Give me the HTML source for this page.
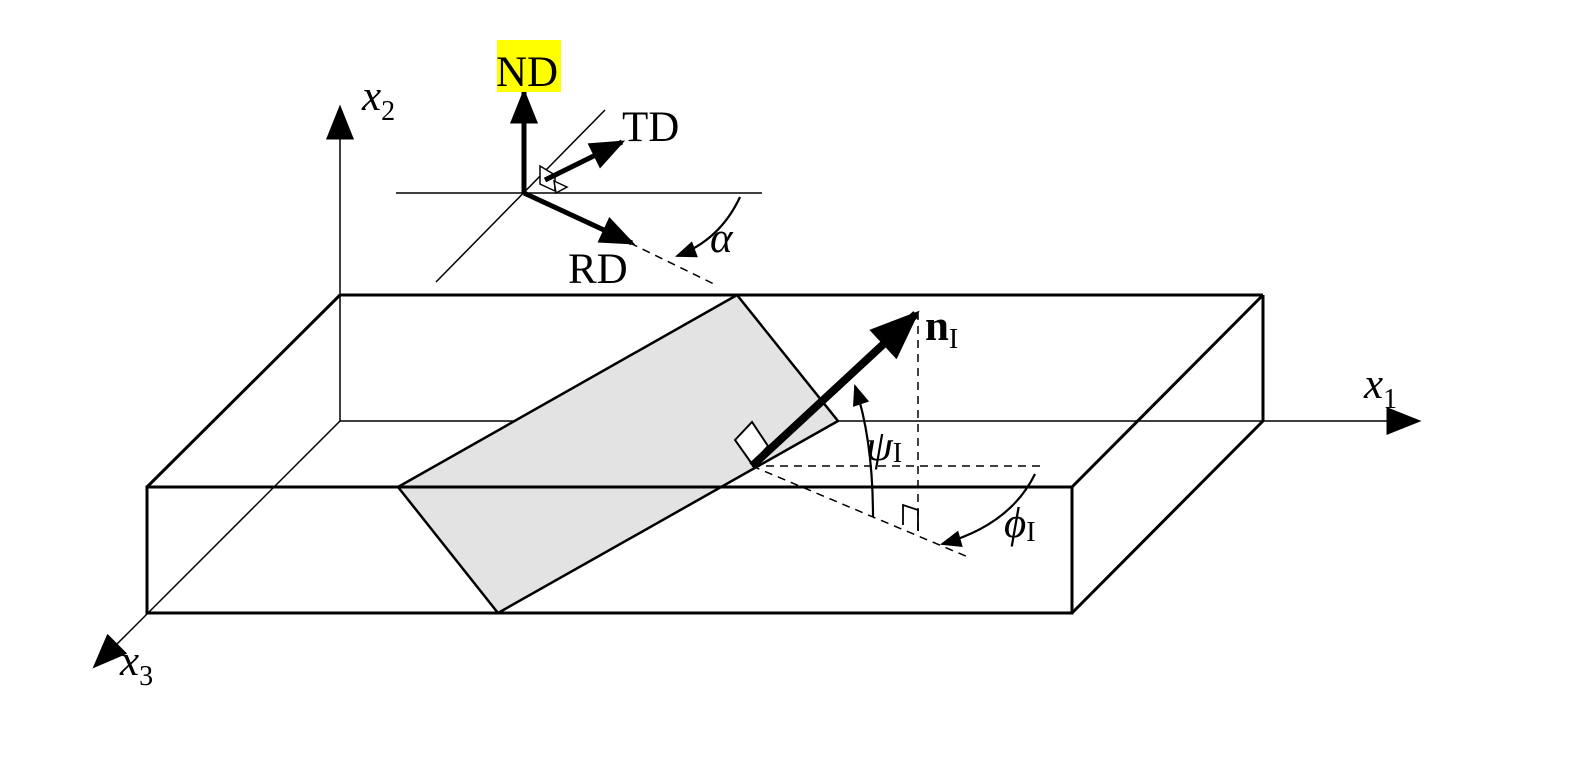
<!DOCTYPE html>
<html><head><style>html,body{margin:0;padding:0;background:#fff;overflow:hidden}svg{display:block}text{font-family:"Liberation Serif",serif}</style></head><body>
<svg width="1589" height="758" viewBox="0 0 1589 758">
<defs>
<marker id="big" viewBox="0 0 10 8" markerWidth="52" markerHeight="40" refX="9" refY="4" orient="auto" markerUnits="userSpaceOnUse"><path d="M0,0 L10,4 L0,8 Z"/></marker>
<marker id="med" viewBox="0 0 10 8" markerWidth="38" markerHeight="28" refX="9" refY="4" orient="auto" markerUnits="userSpaceOnUse"><path d="M0,0 L10,4 L0,8 Z"/></marker>
<marker id="sm" viewBox="0 0 10 8" markerWidth="24" markerHeight="17" refX="9" refY="4" orient="auto" markerUnits="userSpaceOnUse"><path d="M0,0 L10,4 L0,8 Z"/></marker>
</defs>
<g stroke="#000" fill="none">
<line x1="340" y1="421" x2="340" y2="108" stroke-width="1.5" marker-end="url(#med)"/>
<line x1="340" y1="421" x2="1418" y2="421" stroke-width="1.5" marker-end="url(#med)"/>
<line x1="340" y1="421" x2="95" y2="666" stroke-width="1.5" marker-end="url(#med)"/>
<polygon points="398,487 737,295 838,421 498,613" fill="#e3e3e3" stroke-width="2.5"/>
<g stroke-width="3">
<polygon points="147,487 1072,487 1072,613 147,613"/>
<line x1="147" y1="487" x2="340" y2="295"/>
<line x1="340" y1="295" x2="1263" y2="295"/>
<line x1="1263" y1="295" x2="1072" y2="487"/>
<line x1="1263" y1="295" x2="1263" y2="421"/>
<line x1="1263" y1="421" x2="1072" y2="613"/>
</g>
<g stroke-width="1.5" stroke-dasharray="8,6">
<line x1="752" y1="466" x2="1045" y2="466"/>
<line x1="752" y1="466" x2="968" y2="557"/>
<line x1="918" y1="312" x2="918" y2="532"/>
<line x1="630" y1="243" x2="716" y2="285"/>
</g>
<polygon points="735,440 752,422 768,446 752,464" fill="#fff" stroke-width="2"/>
<polyline points="903,525 903,505 918,510 918,531" stroke-width="1.8"/>
<line x1="752" y1="466" x2="916" y2="314" stroke-width="8" marker-end="url(#big)"/>
<path d="M873,517 Q873,440 855,386" stroke-width="2.2" marker-end="url(#sm)"/>
<path d="M1035,474 Q1010,525 942,544" stroke-width="2.2" marker-end="url(#sm)"/>
<line x1="396" y1="193" x2="762" y2="193" stroke-width="1.5"/>
<line x1="436" y1="282" x2="605" y2="110" stroke-width="1.5"/>
<polygon points="540,166 555,175 555,191 540,184" fill="#fff" stroke-width="1.5"/>
<polygon points="554,181 567,187 556,193" fill="#fff" stroke-width="1.5"/>
<line x1="524" y1="193" x2="524" y2="92" stroke-width="5" marker-end="url(#med)"/>
<line x1="545" y1="180" x2="622" y2="142" stroke-width="5" marker-end="url(#med)"/>
<line x1="524" y1="193" x2="632" y2="243" stroke-width="5" marker-end="url(#med)"/>
<path d="M740,197 Q720,240 677,256" stroke-width="2.2" marker-end="url(#sm)"/>
</g>
<rect x="497" y="40" width="64" height="52" fill="#ffff00"/>
<g font-size="43">
<text x="496" y="86">ND</text>
<text x="622" y="141">TD</text>
<text x="568" y="283">RD</text>
<text x="362" y="110" font-style="italic">x<tspan font-size="28" font-style="normal" dy="10">2</tspan></text>
<text x="1364" y="398" font-style="italic">x<tspan font-size="28" font-style="normal" dy="10">1</tspan></text>
<text x="120" y="675" font-style="italic">x<tspan font-size="28" font-style="normal" dy="10">3</tspan></text>
<text x="710" y="252" font-style="italic">α</text>
<text x="925" y="340" font-weight="bold">n<tspan font-size="28" font-weight="normal" dy="8">I</tspan></text>
<text x="866" y="460" font-style="italic">ψ<tspan font-size="28" font-style="normal" dy="2">I</tspan></text>
<text x="1004" y="537" font-style="italic">ϕ<tspan font-size="28" font-style="normal" dy="4">I</tspan></text>
</g>
</svg>
</body></html>
